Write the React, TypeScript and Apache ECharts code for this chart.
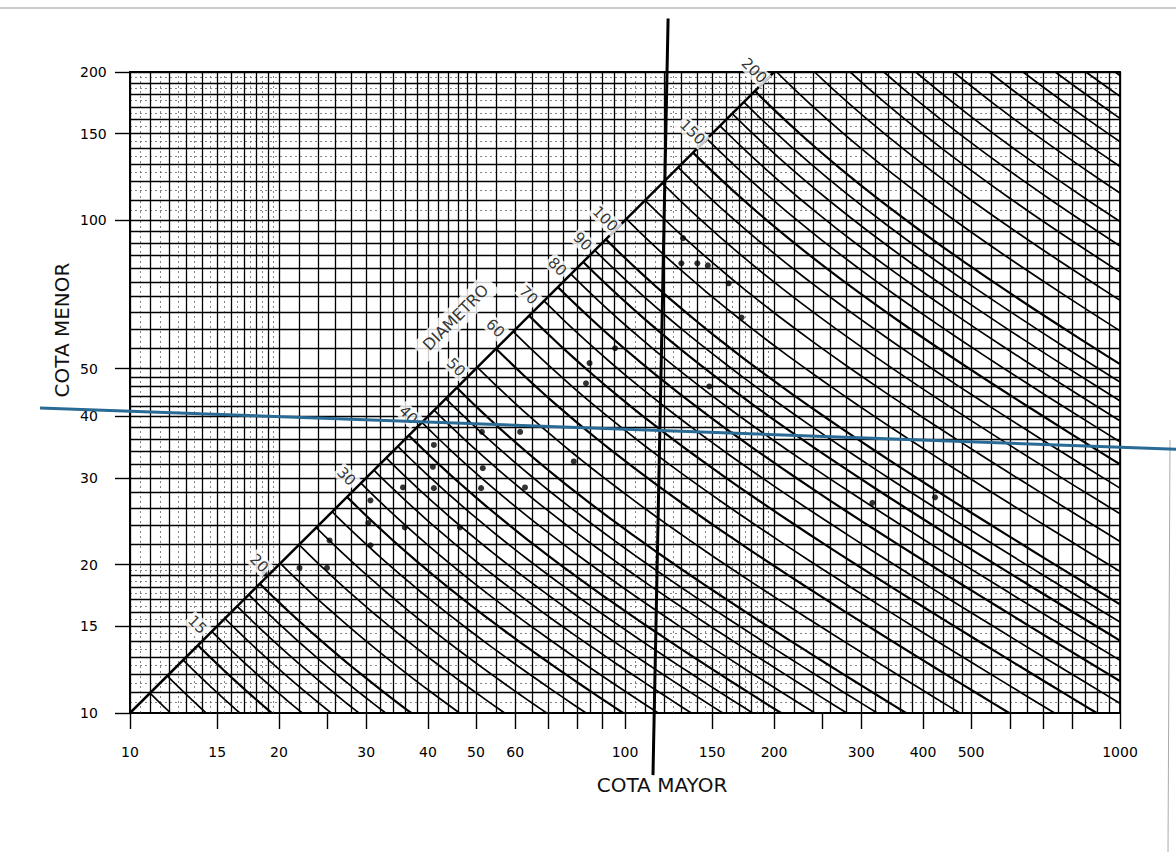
import React, { useEffect, useRef } from "react";
import * as echarts from "echarts";

// ---- axis ticks / labels (real values, log scale) ----
const xTickValues = [10, 15, 20, 25, 30, 40, 50, 60, 70, 80, 90, 100, 150, 200, 250, 300, 400, 500, 600, 700, 800, 1000];
const xLabelValues = [10, 15, 20, 30, 40, 50, 60, 100, 150, 200, 300, 400, 500, 1000];
const yTickValues = [10, 15, 20, 30, 40, 50, 100, 150, 200];
const yLabelValues = [10, 15, 20, 30, 40, 50, 100, 150, 200];

// ---- grid lines of the log paper ----
const xMajorGrid = [10, 11, 12, 13, 14, 15, 16, 17, 18, 19, 20, 22, 24, 26, 28, 30, 32, 34, 36, 38, 40, 42, 44, 46, 48, 50, 55, 60, 65, 70, 75, 80, 85, 90, 95, 100, 110, 120, 130, 140, 150, 160, 170, 180, 190, 200, 220, 240, 260, 280, 300, 320, 340, 360, 380, 400, 420, 440, 460, 480, 500, 550, 600, 650, 700, 750, 800, 850, 900, 950, 1000];
const xMinorGrid = [10.5, 11.5, 12.5, 13.5, 14.5, 15.5, 16.5, 17.5, 18.5, 19.5, 105, 115, 125, 135, 145, 155, 165, 175, 185, 195];
const yMajorGrid = [10, 11, 12, 13, 14, 15, 16, 17, 18, 19, 20, 22, 24, 26, 28, 30, 32, 34, 36, 38, 40, 42, 44, 46, 48, 50, 55, 60, 65, 70, 75, 80, 85, 90, 95, 100, 110, 120, 130, 140, 150, 160, 170, 180, 190, 200];
const yMinorGrid = [10.5, 11.5, 12.5, 13.5, 14.5, 15.5, 16.5, 17.5, 18.5, 19.5, 105, 115, 125, 135, 145, 155, 165, 175, 185, 195];

// ---- equivalent diameter lines ----
const diameterValues = [11, 12, 13, 14, 15, 16, 17, 18, 19, 20, 22, 24, 26, 28, 30, 32, 34, 36, 38, 40, 42.5, 45, 47.5, 50, 55, 60, 65, 70, 75, 80, 85, 90, 95, 100, 110, 120, 130, 140, 150, 160, 170, 180, 190, 200, 220, 240, 260, 280, 300, 325, 350, 375, 400, 425, 450];
const labeledDiameters = [15, 20, 30, 40, 50, 60, 70, 80, 90, 100, 150, 200];

// ---- marked points (cota mayor, cota menor) ----
const markedPoints = [
  [18.7, 19.2], [22, 19.7], [25, 19.7], [25.3, 22.4], [30.3, 24.3], [30.6, 21.9], [30.6, 27],
  [35.6, 28.7], [35.9, 23.8], [41.1, 35], [40.9, 31.6], [41.1, 28.6], [46.4, 23.8], [51.6, 31.4],
  [51.4, 37.2], [51.2, 28.6], [62.8, 28.7], [61.4, 37.2], [78.8, 32.4], [83.4, 46.7], [84.8, 51.3],
  [95.5, 55], [131, 92], [130, 81.8], [140, 81.8], [147, 81], [162, 74.5], [172, 63.5], [148, 46],
  [316, 26.7], [423, 27.4],
];

// ---- annotation lines (cota mayor, cota menor end points) ----
const verticalMark = [[122.2, 256.9], [113.9, 7.48]];
const horizontalMark = [[6.58, 41.6], [1297.6, 34.3]];
const diametroLabelAt = [45.5, 63.5];

const X_MIN = 10, X_MAX = 1000, Y_MIN = 10, Y_MAX = 200;
const L = (v: number) => Math.log10(v);

const K = 1.3;
function deq(a: number, b: number) {
  return (K * Math.pow(a * b, 0.625)) / Math.pow(a + b, 0.25);
}
function solveA(D: number, b: number) {
  let lo = Math.log(b), hi = Math.log(1e7);
  for (let i = 0; i < 60; i++) {
    const m = (lo + hi) / 2;
    if (deq(Math.exp(m), b) < D) lo = m; else hi = m;
  }
  return Math.exp((lo + hi) / 2);
}
function solveB(D: number, a: number) {
  let lo = Math.log(1e-4), hi = Math.log(a);
  for (let i = 0; i < 60; i++) {
    const m = (lo + hi) / 2;
    if (deq(a, Math.exp(m)) < D) lo = m; else hi = m;
  }
  return Math.exp((lo + hi) / 2);
}
const diagFactor = K / Math.pow(2, 0.25);
function diameterCurve(D: number): number[][] {
  const a0 = D / diagFactor;
  const pts: number[][] = [];
  const bStart = Math.min(a0, Y_MAX);
  const n = 40;
  for (let i = 0; i <= n; i++) {
    const b = bStart * Math.pow(Y_MIN / bStart, i / n);
    const a = i === 0 && a0 <= Y_MAX ? a0 : solveA(D, b);
    if (a > X_MAX) {
      const bEnd = solveB(D, X_MAX);
      if (bEnd <= Y_MAX && bEnd >= Y_MIN) pts.push([X_MAX, bEnd]);
      break;
    }
    pts.push([a, b]);
  }
  return pts;
}

export default function App() {
  const ref = useRef<HTMLDivElement>(null);
  useEffect(() => {
    if (!ref.current) return;
    const chart = echarts.init(ref.current, null, { renderer: "svg" });
    const font = "'DejaVu Sans', sans-serif";

    const vLines = (vals: number[]) =>
      vals.map((v) => ({ coords: [[L(v), L(Y_MIN)], [L(v), L(Y_MAX)]] }));
    const hLines = (vals: number[]) =>
      vals.map((v) => ({ coords: [[L(X_MIN), L(v)], [L(X_MAX), L(v)]] }));

    const curves = diameterValues
      .map((D) => ({ D, pts: diameterCurve(D) }))
      .filter((c) => c.pts.length > 1);
    const thinCurves = curves.filter((c) => labeledDiameters.indexOf(c.D) < 0);
    const thickCurves = curves.filter((c) => labeledDiameters.indexOf(c.D) >= 0);
    const toCoords = (c: { pts: number[][] }) => ({ coords: c.pts.map((p) => [L(p[0]), L(p[1])]) });

    const option: any = {
      animation: false,
      backgroundColor: "#ffffff",
      grid: {
        left: 130,
        right: 56,
        top: 72,
        bottom: 139,
        show: true,
        borderColor: "#000",
        borderWidth: 1.8,
        backgroundColor: "transparent",
      },
      xAxis: {
        type: "value",
        min: L(X_MIN),
        max: L(X_MAX),
        axisLine: { show: true, onZero: false, lineStyle: { color: "#000", width: 1.8 } },
        axisTick: {
          show: true,
          customValues: xTickValues.map(L),
          length: 16,
          lineStyle: { color: "#000", width: 1.4 },
        },
        axisLabel: {
          customValues: xLabelValues.map(L),
          formatter: (v: number) => String(Math.round(Math.pow(10, v))),
          margin: 32,
          color: "#000",
          fontFamily: font,
          fontSize: 14,
        },
        splitLine: { show: false },
      },
      yAxis: {
        type: "value",
        min: L(Y_MIN),
        max: L(Y_MAX),
        axisLine: { show: true, onZero: false, lineStyle: { color: "#000", width: 1.8 } },
        axisTick: {
          show: true,
          customValues: yTickValues.map(L),
          length: 15,
          lineStyle: { color: "#000", width: 1.4 },
        },
        axisLabel: {
          customValues: yLabelValues.map(L),
          formatter: (v: number) => String(Math.round(Math.pow(10, v))),
          margin: 50,
          align: "left",
          color: "#000",
          fontFamily: font,
          fontSize: 14,
        },
        splitLine: { show: false },
      },
      graphic: [
        { type: "line", shape: { x1: 0, y1: 8, x2: 1176, y2: 8 }, style: { stroke: "#999", lineWidth: 1 } },
        { type: "line", shape: { x1: 1170, y1: 440, x2: 1168, y2: 852 }, style: { stroke: "#aaa", lineWidth: 1 } },
        {
          type: "text",
          x: 662,
          y: 785,
          style: { text: "COTA MAYOR", font: "20px 'DejaVu Sans', sans-serif", fill: "#111", align: "center", verticalAlign: "middle" },
        },
        {
          type: "text",
          x: 62,
          y: 330,
          rotation: Math.PI / 2,
          style: { text: "COTA MENOR", font: "20px 'DejaVu Sans', sans-serif", fill: "#111", align: "center", verticalAlign: "middle" },
        },
      ],
      series: [
        {
          type: "lines", coordinateSystem: "cartesian2d", silent: true, z: 1,
          data: vLines(xMinorGrid).concat(hLines(yMinorGrid)),
          lineStyle: { color: "#666", width: 0.8, type: [2, 3], opacity: 1 },
        },
        {
          type: "lines", coordinateSystem: "cartesian2d", silent: true, z: 2,
          data: vLines(xMajorGrid).concat(hLines(yMajorGrid)),
          lineStyle: { color: "#000", width: 1.3, opacity: 1 },
        },
        {
          type: "lines", coordinateSystem: "cartesian2d", polyline: true, silent: true, z: 3,
          data: thinCurves.map(toCoords),
          lineStyle: { color: "#000", width: 1.7, opacity: 1 },
        },
        {
          type: "lines", coordinateSystem: "cartesian2d", polyline: true, silent: true, z: 3,
          data: thickCurves.map(toCoords),
          lineStyle: { color: "#000", width: 2.2, opacity: 1 },
        },
        {
          type: "lines", coordinateSystem: "cartesian2d", silent: true, z: 4,
          data: [{ coords: [[L(X_MIN), L(Y_MIN)], [L(Y_MAX), L(Y_MAX)]] }],
          lineStyle: { color: "#000", width: 2.5, opacity: 1 },
        },
        {
          type: "scatter", z: 5, silent: true,
          data: markedPoints.map((p) => [L(p[0]), L(p[1])]),
          symbolSize: 6,
          itemStyle: { color: "#000" },
        },
        {
          type: "scatter", z: 6, silent: true,
          symbolSize: 0,
          data: labeledDiameters.map((D) => ({
            value: [L(D / diagFactor), L(D / diagFactor)],
            name: String(D),
          })),
          label: {
            show: true,
            formatter: (p: any) => p.name,
            position: "inside",
            offset: [-15, -14],
            rotate: -45,
            fontSize: 15,
            fontFamily: font,
            color: "#000",
            backgroundColor: "#fff",
            padding: [1, 2],
          },
        },
        {
          type: "scatter", z: 6, silent: true,
          symbolSize: 0,
          data: [{ value: [L(diametroLabelAt[0]), L(diametroLabelAt[1])], name: "DIAMETRO" }],
          label: {
            show: true,
            formatter: (p: any) => p.name,
            position: "inside",
            rotate: 45,
            fontSize: 16,
            fontFamily: font,
            color: "#000",
            backgroundColor: "#fff",
            padding: [4, 8],
          },
        },
        {
          type: "lines", coordinateSystem: "cartesian2d", silent: true, z: 8, clip: false,
          data: [{ coords: verticalMark.map((p) => [L(p[0]), L(p[1])]) }],
          lineStyle: { color: "#000", width: 3, opacity: 1 },
        },
        {
          type: "lines", coordinateSystem: "cartesian2d", silent: true, z: 8, clip: false,
          data: [{ coords: horizontalMark.map((p) => [L(p[0]), L(p[1])]) }],
          lineStyle: { color: "#2a6b96", width: 3, opacity: 1 },
        },
      ],
    };
    chart.setOption(option);
    return () => chart.dispose();
  }, []);

  return (
    <div
      ref={ref}
      style={{ position: "absolute", left: 0, top: 0, width: 1176, height: 852, background: "#fff" }}
    />
  );
}
